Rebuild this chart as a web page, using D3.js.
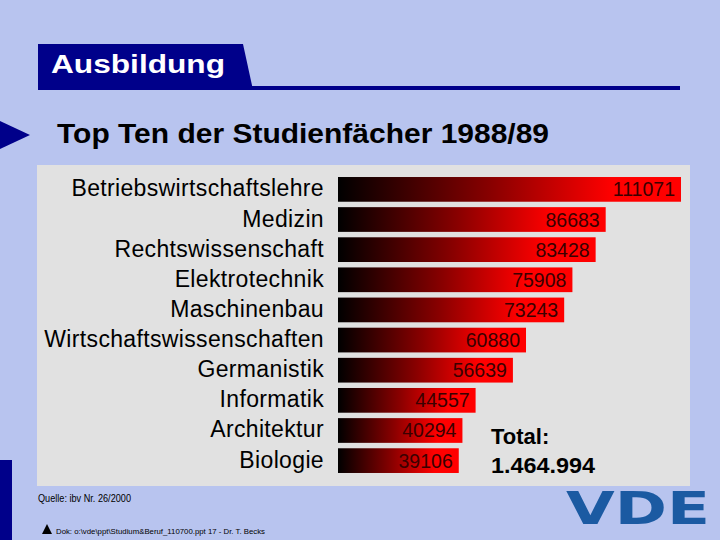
<!DOCTYPE html>
<html><head><meta charset="utf-8">
<script src="https://cdn.jsdelivr.net/npm/d3@7"></script>
<style>body{margin:0;background:#b8c4ef;}svg{display:block;font-family:"Liberation Sans",Arial,sans-serif;}</style>
</head><body>
<script>
const categories = ["Betriebswirtschaftslehre","Medizin","Rechtswissenschaft","Elektrotechnik","Maschinenbau","Wirtschaftswissenschaften","Germanistik","Informatik","Architektur","Biologie"];
const values = [111071,86683,83428,75908,73243,60880,56639,44557,40294,39106];
const totalLabel = "Total:";
const totalValue = "1.464.994";

const W=720,H=540;
const svg=d3.select("body").append("svg").attr("width",W).attr("height",H);
svg.append("rect").attr("width",W).attr("height",H).attr("fill","#b8c4ef");

const defs=svg.append("defs");
const g=defs.append("linearGradient").attr("id","barGrad").attr("x1","0").attr("x2","1").attr("y1","0").attr("y2","0");
g.append("stop").attr("offset","0").attr("stop-color","#000000");
g.append("stop").attr("offset","0.45").attr("stop-color","#8a0000");
g.append("stop").attr("offset","0.8").attr("stop-color","#ff0000");
g.append("stop").attr("offset","1").attr("stop-color","#ff0000");

// header box
svg.append("path").attr("d","M38,44 L243,44 L253,90 L38,90 Z").attr("fill","#00008a");
svg.append("rect").attr("x",250).attr("y",86).attr("width",430).attr("height",4).attr("fill","#00008a");
svg.append("text").attr("x",51).attr("y",73).attr("fill","#fff").attr("font-size",25).attr("font-weight","bold")
  .attr("textLength",174).attr("lengthAdjust","spacingAndGlyphs").text("Ausbildung");

// arrow
svg.append("path").attr("d","M0,121 L30,135 L0,149 Z").attr("fill","#00008a");
svg.append("text").attr("x",57).attr("y",143).attr("font-size",28).attr("font-weight","bold").attr("fill","#000")
  .attr("textLength",492).attr("lengthAdjust","spacingAndGlyphs").text("Top Ten der Studienfächer 1988/89");

// left bottom bar
svg.append("rect").attr("x",0).attr("y",460).attr("width",12).attr("height",80).attr("fill","#00008a");

// panel
svg.append("rect").attr("x",37).attr("y",165).attr("width",653).attr("height",321).attr("fill","#e1e1e1");

const x=d3.scaleLinear().domain([0,111071]).range([338,681]);
const y=d3.scaleBand().domain(categories).range([174,476]).paddingInner(0.18).paddingOuter(0.1);

svg.selectAll("rect.bar").data(values).join("rect").attr("class","bar")
  .attr("x",x(0)).attr("y",(d,i)=>y(categories[i])).attr("width",d=>x(d)-x(0)).attr("height",y.bandwidth())
  .attr("fill","url(#barGrad)");

svg.selectAll("text.val").data(values).join("text").attr("class","val")
  .attr("x",d=>x(d)-6).attr("y",(d,i)=>y(categories[i])+y.bandwidth()/2+7).attr("text-anchor","end")
  .attr("font-size",19.5).attr("fill","#3a0000").text(d=>d);

svg.selectAll("text.cat").data(categories).join("text").attr("class","cat")
  .attr("x",324).attr("y",d=>y(d)+y.bandwidth()/2+7).attr("text-anchor","end")
  .attr("font-size",23).attr("letter-spacing",0.35).attr("fill","#000").text(d=>d);

svg.append("text").attr("x",491).attr("y",444).attr("font-size",22).attr("font-weight","bold").text(totalLabel);
svg.append("text").attr("x",491).attr("y",473).attr("font-size",22).attr("font-weight","bold")
  .attr("textLength",104).attr("lengthAdjust","spacingAndGlyphs").text(totalValue);

svg.append("text").attr("x",38).attr("y",502).attr("font-size",10.5).attr("fill","#000")
  .attr("textLength",93).attr("lengthAdjust","spacingAndGlyphs").text("Quelle: ibv Nr. 26/2000");
svg.append("path").attr("d","M42,534 L47,524 L52,534 Z").attr("fill","#000");
svg.append("text").attr("x",56).attr("y",534).attr("font-size",8).attr("fill","#000")
  .attr("textLength",209).attr("lengthAdjust","spacingAndGlyphs").text("Dok: o:\\vde\\ppt\\Studium&Beruf_110700.ppt 17 - Dr. T. Becks");

// VDE logo
svg.append("text").attr("x",566).attr("y",524).attr("font-size",44).attr("font-weight","bold").attr("fill","#1b5aa2")
  .attr("font-family","DejaVu Sans").attr("textLength",144).attr("lengthAdjust","spacingAndGlyphs").text("VDE");
</script>
</body></html>
